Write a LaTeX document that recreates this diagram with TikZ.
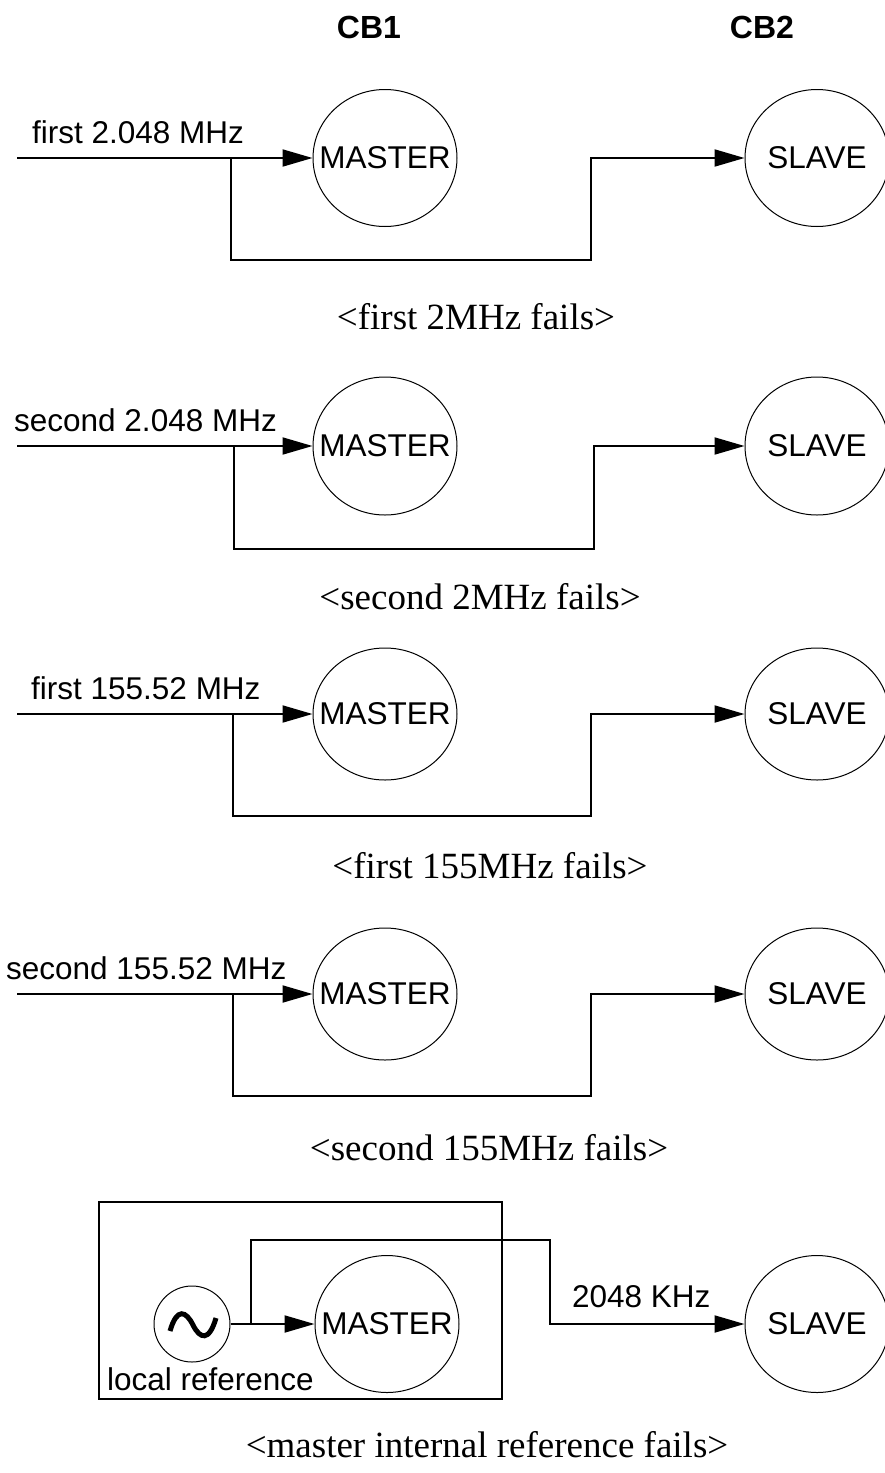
\documentclass[tikz,border=0pt]{standalone}
\usepackage{fontspec}
\setmainfont{Liberation Serif}
\setsansfont{Liberation Sans}
\usetikzlibrary{shapes.geometric,arrows.meta}
\tikzset{
  unit/.style={ellipse, draw, line width=1pt, minimum width=144pt, minimum height=137pt,
    inner sep=0pt},
  unitname/.style={font=\sffamily\fontsize{31.5}{36}\selectfont, inner sep=0pt},
  feed/.style={line width=2pt, -{Triangle[length=30pt,width=17pt]}},
  lbl/.style={font=\sffamily\fontsize{31.5}{36}\selectfont, anchor=base west, inner sep=0pt},
  caption/.style={font=\fontsize{37}{41}\selectfont, anchor=base, inner sep=0pt},
  title/.style={font=\sffamily\bfseries\fontsize{32}{36}\selectfont, anchor=base, inner sep=0pt},
}
\begin{document}
\begin{tikzpicture}[x=1pt,y=-1pt]
  \fill[white] (0,0) rectangle (885,1473);
  \useasboundingbox (0,0) rectangle (885,1473);
  \clip (0,0) rectangle (885,1473);

  % column headings
  \node[title] (cb1) at (369,38) {CB1};
  \node[title] (cb2) at (762,38) {CB2};

  % four reference-input cases
  \foreach \i/\y/\ry/\bot/\bx/\rx/\lx/\lab/\cx/\cy/\cap in {
    1/158/137/260/231/591/32/{first 2.048 MHz}/476/329/{<first 2MHz fails>},
    2/446/138/549/234/594/14/{second 2.048 MHz}/480/609/{<second 2MHz fails>},
    3/714/132/816/233/591/31/{first 155.52 MHz}/490/878/{<first 155MHz fails>},
    4/994/132/1096/233/591/6/{second 155.52 MHz}/489/1160/{<second 155MHz fails>}} {
    \node[unit, minimum height=\ry pt] (m\i) at (385,\y) {};
    \node[unit, minimum height=\ry pt] (s\i) at (817,\y) {};
    \node[unitname] (mt\i) at (m\i) {MASTER};
    \node[unitname] (st\i) at (s\i) {SLAVE};
    \coordinate (in\i) at (17,\y);
    \coordinate (br\i) at (\bx,\y);
    \coordinate (lo\i) at (\rx,\bot);
    \draw[feed] (in\i) -- (m\i.west);
    \draw[feed] (br\i) |- (lo\i) |- (s\i.west);
    \node[lbl] (l\i) at (\lx,\y-15) {\lab};
    \node[caption] (c\i) at (\cx,\cy) {\cap};
  }

  % internal reference case
  \node[draw, line width=2pt, minimum width=403pt, minimum height=197pt, inner sep=0pt]
    (box) at (300.5,1300.5) {};
  \node[circle, draw, line width=1pt, minimum size=76pt, inner sep=0pt] (osc) at (192,1324) {};
  \draw[line width=5pt]
    (170,1331) .. controls (177,1307) and (186,1311) .. (193,1325)
    .. controls (200,1339) and (209,1342) .. (216,1318);
  \node[unit] (m5) at (387,1324) {};
  \node[unit] (s5) at (817,1324) {};
  \node[unitname] (mt5) at (m5) {MASTER};
  \node[unitname] (st5) at (s5) {SLAVE};
  \coordinate (br5) at (251,1324);
  \coordinate (hi5) at (550,1240);
  \draw[feed] (osc.east) -- (m5.west);
  \draw[feed] (br5) |- (hi5) |- (s5.west);
  \node[lbl] (lref) at (107,1390) {local reference};
  \node[lbl] (lkhz) at (572,1307) {2048 KHz};
  \node[caption] (c5) at (487,1457) {<master internal reference fails>};
\end{tikzpicture}
\end{document}
